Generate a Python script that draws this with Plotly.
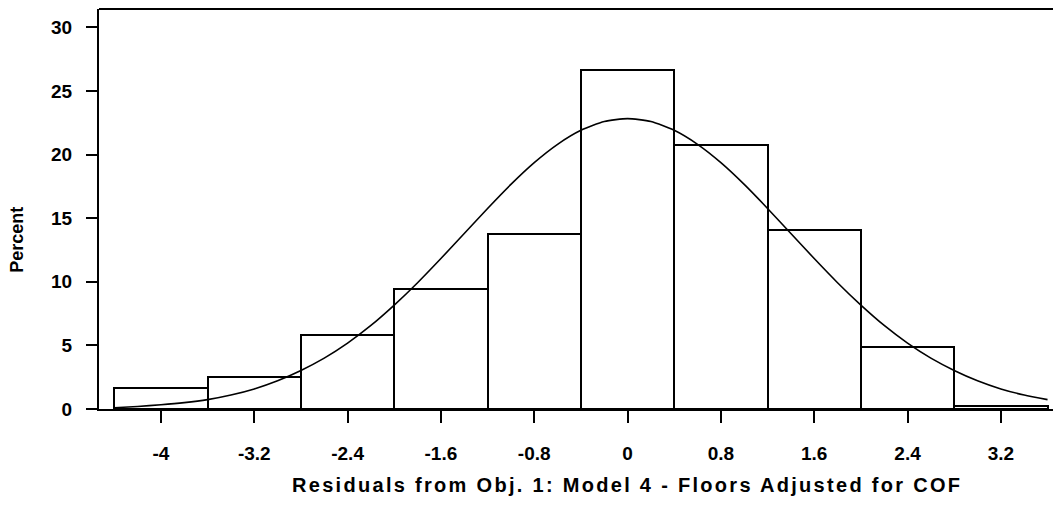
import plotly.graph_objects as go

# Histogram bins (midpoints) and percentages
bin_mid = [-4.0, -3.2, -2.4, -1.6, -0.8, 0.0, 0.8, 1.6, 2.4, 3.2]
percent = [1.62, 2.48, 5.78, 9.45, 13.77, 26.68, 20.74, 14.06, 4.84, 0.26]
bin_width = 0.8

# Fitted normal curve
curve_x = [-4.4, -4.2, -4.0, -3.8, -3.6, -3.4, -3.2, -3.0, -2.8, -2.6, -2.4, -2.2,
           -2.0, -1.8, -1.6, -1.4, -1.2, -1.0, -0.8, -0.6, -0.4, -0.2, 0.0,
           0.2, 0.4, 0.6, 0.8, 1.0, 1.2, 1.4, 1.6, 1.8, 2.0, 2.2, 2.4, 2.6,
           2.8, 3.0, 3.2, 3.4, 3.6]
curve_y = [0.10, 0.20, 0.33, 0.50, 0.74, 1.10, 1.58, 2.22, 3.03, 4.00, 5.18, 6.57,
           8.17, 9.93, 11.83, 13.80, 15.77, 17.66, 19.37, 20.81, 21.91, 22.60, 22.83,
           22.60, 21.91, 20.81, 19.37, 17.66, 15.77, 13.80, 11.83, 9.93, 8.17, 6.57,
           5.18, 4.00, 3.03, 2.22, 1.58, 1.10, 0.74]

x_ticks = [-4, -3.2, -2.4, -1.6, -0.8, 0, 0.8, 1.6, 2.4, 3.2]
x_tick_text = ["-4", "-3.2", "-2.4", "-1.6", "-0.8", "0", "0.8", "1.6", "2.4", "3.2"]
y_ticks = [0, 5, 10, 15, 20, 25, 30]

FONT = "Liberation Sans, Arial, sans-serif"
TICKFONT = dict(family=FONT, size=19, color="black", weight="bold")

fig = go.Figure()
fig.add_trace(go.Bar(
    x=bin_mid, y=percent, width=bin_width,
    marker=dict(color="white", line=dict(color="black", width=2)),
    showlegend=False, hoverinfo="x+y",
))
fig.add_trace(go.Scatter(
    x=curve_x, y=curve_y, mode="lines",
    line=dict(color="black", width=1.6, shape="spline", smoothing=0.6),
    showlegend=False,
))

fig.update_layout(
    width=1053, height=523,
    margin=dict(l=99, r=0, t=9, b=114),
    plot_bgcolor="white", paper_bgcolor="white",
    font=dict(family=FONT, size=18, color="black", weight="bold"),
    bargap=0,
    xaxis=dict(
        range=[-4.531, 3.647], tickvals=x_ticks, ticktext=x_tick_text,
        showline=True, linecolor="black", linewidth=2,
        ticks="outside", ticklen=12, tickwidth=2, tickcolor="black",
        showgrid=False, zeroline=False, ticklabelstandoff=14,
        tickfont=TICKFONT,
    ),
    yaxis=dict(
        range=[0, 31.45], tickvals=y_ticks,
        showline=True, linecolor="black", linewidth=2,
        ticks="outside", ticklen=11, tickwidth=2, tickcolor="black",
        showgrid=False, zeroline=False, ticklabelstandoff=10,
        tickfont=TICKFONT,
    ),
    shapes=[dict(type="line", xref="paper", yref="paper", x0=0, x1=1, y0=1, y1=1,
                 line=dict(color="black", width=2))],
    annotations=[
        dict(text="Percent", xref="paper", yref="paper", x=-0.086, y=0.423,
             textangle=-90, showarrow=False, xanchor="center", yanchor="middle",
             font=dict(family=FONT, size=18, color="black", weight="bold")),
        dict(text='<span style="letter-spacing:2.3px">Residuals from Obj. 1: Model 4 - Floors Adjusted for COF</span>',
             xref="paper", yref="paper", x=0.553, y=-0.189, showarrow=False,
             xanchor="center", yanchor="middle",
             font=dict(family=FONT, size=20, color="black", weight="bold")),
    ],
)

fig.write_html("out.html")
